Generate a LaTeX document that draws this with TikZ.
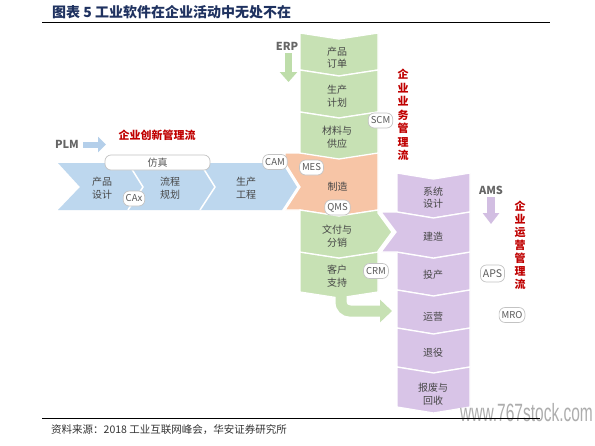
\documentclass[tikz,border=0pt]{standalone}
\usepackage{fontspec}
\usepackage{graphicx}
\usepackage{xcolor}
\newfontfamily\cjk{Noto Sans CJK SC}
\newfontfamily\wmfont{Liberation Sans}
\usetikzlibrary{arrows.meta}
\definecolor{blueC}{RGB}{189,215,238}
\definecolor{greenC}{RGB}{199,225,180}
\definecolor{orangeC}{RGB}{247,197,166}
\definecolor{purpleC}{RGB}{216,196,231}
\definecolor{plmC}{RGB}{180,207,234}
\definecolor{erpC}{RGB}{190,221,170}
\definecolor{amsC}{RGB}{210,190,226}
\definecolor{txtgray}{RGB}{70,70,70}
\definecolor{chipline}{RGB}{195,195,195}
\definecolor{flowred}{RGB}{192,0,0}
\definecolor{titlenavy}{RGB}{31,50,96}

\begin{document}
\begin{tikzpicture}[
  x=1pt, y=-1pt, font=\cjk,
  seg/.style={draw=white, line width=1.3pt},
  sepline/.style={draw=white, line width=1.5pt},
  lbl/.style={text=txtgray, align=center, inner sep=0pt,
              font=\cjk\fontsize{10}{12.5}\selectfont},
  chip/.style={draw=chipline, line width=0.7pt, fill=white, rounded corners=6pt,
               text=black!65, inner xsep=2.5pt, inner ysep=1.5pt, minimum height=15pt,
               font=\cjk\fontsize{9.5}{11}\selectfont},
  sys/.style={text=black!60, inner sep=0pt, font=\cjk\bfseries\fontsize{11}{13}\selectfont},
  flow/.style={text=flowred, align=center, inner sep=0pt,
               font=\cjk\bfseries\fontsize{11}{13.5}\selectfont},
  plmarr/.style={draw=plmC, line width=6pt, -{Triangle[length=8pt, width=15pt]}},
  erparr/.style={draw=erpC, line width=7pt, -{Triangle[length=10pt, width=17pt]}},
  amsarr/.style={draw=amsC, line width=8pt, -{Triangle[length=11pt, width=16pt]}},
  bentarr/.style={draw=greenC, line width=11pt, rounded corners=9pt,
                  -{Triangle[length=12pt, width=22pt]}}
]
\useasboundingbox (0,0) rectangle (595,445);
\fill[white] (0,0) rectangle (595,445);
% --- title ---
\node[anchor=west, inner sep=0pt, text=titlenavy, font=\cjk\bfseries\fontsize{14}{16}\selectfont]
  (title) at (52,12.5) {图表 5 工业软件在企业活动中无处不在};
\draw[line width=1pt] (42,22) -- (550,22);
% --- innovation band (blue) ---
\fill[blueC] (58,163) -- (282,163) -- (297,187) -- (282,210) -- (58,210) -- (80,187) -- cycle;
\draw[sepline] (128,163) -- (143,187) -- (128,210);
\draw[sepline] (200,163) -- (215,187) -- (200,210);
% --- manufacturing (orange) ---
\filldraw[seg, fill=orangeC] (285,153) -- (378,153) -- (378,210) -- (339,216) -- (300,210)
  -- (285,210) -- (300,187) -- (285,163) -- cycle;
% --- business column (green) ---
\foreach \ya/\yb in {33/70, 70/112, 112/153, 252/292}
  \filldraw[seg, fill=greenC] (300,\ya) -- (339,{\ya+6}) -- (378,\ya) -- (378,\yb)
    -- (339,{\yb+6}) -- (300,\yb) -- cycle;
\filldraw[seg, fill=greenC] (300,210) -- (339,216) -- (378,210) -- (378,213) -- (392,232)
  -- (378,251) -- (378,252) -- (339,258) -- (300,252) -- cycle;
% --- operations column (purple) ---
\foreach \ya/\yb in {173/212, 252/290, 290/328, 328/367, 367/407}
  \filldraw[seg, fill=purpleC] (397,\ya) -- (433.5,{\ya+6}) -- (470,\ya) -- (470,\yb)
    -- (433.5,{\yb+6}) -- (397,\yb) -- cycle;
\filldraw[seg, fill=purpleC] (381,212) -- (397,212) -- (433.5,218) -- (470,212) -- (470,252)
  -- (433.5,258) -- (397,252) -- (381,252) -- (396,232) -- cycle;
% --- bent arrow into operation ---
\coordinate (svcfoot) at (341,285);
\coordinate (opsin) at (392,311);
\draw[bentarr] (svcfoot) |- (opsin);
% --- stage labels ---
\node[lbl] (design) at (102,188) {产品\\设计};
\node[lbl] (process) at (170,188) {流程\\规划};
\node[lbl] (prodeng) at (246,188) {生产\\工程};
\node[lbl] (order) at (337,57.5) {产品\\订单};
\node[lbl] (plan) at (337,96) {生产\\计划};
\node[lbl] (supply) at (337,137) {材料与\\供应};
\node[lbl] (mfg) at (337.5,187) {制造};
\node[lbl] (deliver) at (337,236) {文付与\\分销};
\node[lbl] (service) at (337,276) {客户\\支持};
\node[lbl] (sysdes) at (433,197.5) {系统\\设计};
\node[lbl] (build) at (433,237) {建造};
\node[lbl] (commis) at (433,275) {投产};
\node[lbl] (operate) at (433,317) {运营};
\node[lbl] (retire) at (433,353) {退役};
\node[lbl] (scrap) at (433,394) {报废与\\回收};
% --- software chips ---
\node[chip, minimum width=105pt, font=\cjk\fontsize{10}{12}\selectfont] (sim) at (157.5,162.5) {仿真};
\node[chip] (cax) at (134,198.5) {CAx};
\node[chip] (cam) at (275,162) {CAM};
\node[chip] (mes) at (311.5,167.5) {MES};
\node[chip] (qms) at (337.5,207.5) {QMS};
\node[chip] (scm) at (380.5,120.5) {SCM};
\node[chip] (crm) at (376,271) {CRM};
\node[chip, minimum height=17pt, font=\cjk\fontsize{10.5}{12}\selectfont] (aps) at (492.5,273.5) {APS};
\node[chip] (mro) at (512,315) {MRO};
% --- systems and flows ---
\node[sys] (plm) at (67,144.5) {PLM};
\coordinate (plmtip) at (106,144.5);
\draw[plmarr, shorten <=4pt] (plm.east) -- (plmtip);
\node[sys] (erp) at (287,46.5) {ERP};
\coordinate (erptip) at (288.5,82);
\draw[erparr] (288.5,53) -- (erptip);
\node[sys] (ams) at (491,190) {AMS};
\coordinate (amstip) at (491,224);
\draw[amsarr] (491,197) -- (amstip);
\node[flow] (innovflow) at (157,135) {企业创新管理流};
\node[flow] (bizflow) at (403,115) {企\\业\\业\\务\\管\\理\\流};
\node[flow, font=\cjk\bfseries\fontsize{11}{13}\selectfont] (opsflow) at (520,245) {企\\业\\运\\营\\管\\理\\流};
% --- footer ---
\node[anchor=west, inner sep=0pt, text=black!32, font=\wmfont\fontsize{25}{27}\selectfont]
  (wm) at (460,413) {\scalebox{0.62}[1]{www.767stock.com}};
\draw[line width=1pt] (42,418) -- (540,418);
\node[anchor=west, inner sep=0pt, text=black!80, font=\cjk\fontsize{10.5}{13}\selectfont]
  (source) at (51,430) {资料来源：2018 工业互联网峰会，华安证券研究所};
\end{tikzpicture}
\end{document}
